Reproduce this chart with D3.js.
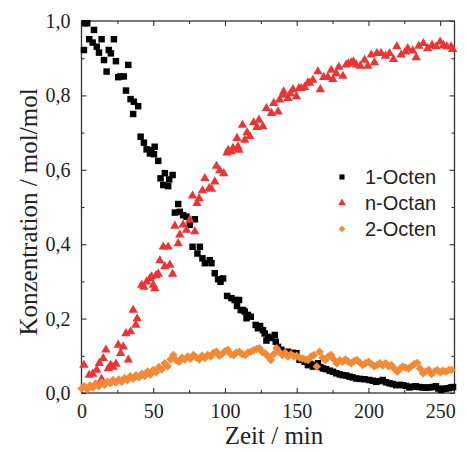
<!DOCTYPE html>
<html>
<head>
<meta charset="utf-8">
<script src="https://cdn.jsdelivr.net/npm/d3@7"></script>
<style>
  html, body { margin: 0; padding: 0; background: #fff; }
  svg { display: block; }
</style>
</head>
<body>
<svg id="chart" width="467" height="452"></svg>
<script>
// ---------- DATA (time in min, concentration in mol/mol) ----------
const seriesNames = ["1-Octen", "n-Octan", "2-Octen"];
const xTickValues = [0, 50, 100, 150, 200, 250];
const yTickValues = [0, 0.2, 0.4, 0.6, 0.8, 1.0];

const octen1 = [[1.7,.922],[2.4,.994],[4,.994],[5.4,.951],[7.8,.942],[8.7,.976],[10.6,.931],[12.2,.915],[14,.951],[15.7,.895],[17.5,.864],[19,.922],[20.5,.913],[22.6,.951],[24,.892],[25.6,.849],[27.2,.851],[29.5,.851],[31,.813],[32.6,.882],[34.2,.79],[36,.75],[36.5,.783],[39.5,.771],[41.2,.689],[43.5,.673],[45.4,.655],[47.7,.644],[48.8,.653],[50.5,.642],[51,.662],[53.5,.624],[55.1,.577],[57,.559],[58.1,.591],[60.4,.556],[61.1,.574],[63.5,.586],[65.1,.485],[67.4,.508],[68.5,.487],[70.8,.478],[73.2,.474],[75.5,.452],[77.4,.393],[79,.467],[80.8,.375],[82.5,.393],[84.3,.362],[86,.349],[89.4,.357],[90.6,.349],[92.9,.322],[95.2,.306],[96.9,.299],[98.7,.308],[101.5,.261],[104.5,.255],[106.8,.25],[108.4,.234],[109.8,.25],[111,.223],[112.6,.223],[113.8,.219],[115,.201],[116,.21],[118,.205],[121.4,.183],[123,.174],[124.5,.18],[126.5,.169],[127.7,.16],[128.9,.141],[130,.151],[132.3,.148],[134.7,.156],[135.4,.138],[137,.124],[139.3,.116],[141.6,.108],[143.9,.111],[145.5,.105],[147.4,.108],[149.8,.107],[152,.089],[153.8,.09],[155.5,.084],[157.8,.075],[159.5,.078],[161.3,.071],[163,.074],[164.8,.08],[166.5,.07],[168.3,.066],[170.5,.064],[173,.06],[175.3,.057],[177.6,.053],[180,.05],[182.2,.048],[184.5,.047],[186.8,.044],[189,.042],[191.5,.039],[194,.038],[197.3,.037],[200.5,.035],[203,.033],[205.4,.03],[207.7,.032],[210,.035],[212.3,.029],[214.7,.026],[217,.024],[219.3,.021],[221.7,.022],[224,.021],[226.3,.019],[228.6,.015],[231,.017],[233,.018],[235.5,.016],[237.9,.015],[240.2,.014],[242.5,.015],[244.8,.016],[247,.018],[248.8,.012],[250.6,.008],[252.3,.011],[254,.012],[256,.013],[257.6,.015],[259,.016]];

const nOctan = [[1.7,.075],[5.4,.048],[7.8,.051],[9.4,.022],[10.6,.062],[12.4,.08],[14,.037],[15.2,.093],[17,.116],[18.7,.066],[20.3,.075],[22,.07],[24,.078],[25.6,.129],[27.3,.107],[29.1,.124],[31,.16],[32.6,.089],[34.2,.165],[36,.223],[37.9,.183],[38.8,.2],[41.9,.29],[43.5,.285],[45.4,.299],[47.7,.308],[48.8,.313],[50,.29],[51.1,.281],[52,.316],[53.5,.32],[54.6,.356],[57,.393],[58.1,.34],[60.4,.393],[61.6,.344],[63.5,.32],[65.1,.449],[67.4,.402],[68.5,.425],[70.8,.452],[73.2,.438],[75.5,.465],[77.4,.53],[79,.434],[80.5,.51],[82,.523],[84.3,.544],[86,.577],[89,.55],[90.6,.548],[92.9,.568],[94.1,.61],[96.4,.598],[99.2,.59],[101.5,.646],[102.2,.653],[104.5,.649],[105.6,.658],[108.4,.685],[109.1,.662],[109.8,.653],[112.2,.72],[113.8,.68],[115.4,.7],[117.3,.69],[120,.727],[122.3,.714],[123.7,.734],[126.5,.716],[128.9,.765],[132.4,.752],[134,.779],[137,.756],[138.1,.788],[140.4,.801],[140.9,.81],[143.9,.792],[145.5,.805],[147.4,.816],[149.8,.797],[151.6,.819],[153.2,.819],[155.5,.822],[157.8,.834],[159,.833],[161.3,.841],[164.8,.864],[166.5,.816],[168.8,.849],[171.7,.849],[174.1,.868],[175.2,.843],[177.6,.859],[179.4,.876],[182.2,.852],[184.5,.882],[186,.885],[188,.888],[189.6,.891],[191.5,.882],[194.3,.879],[197.3,.895],[199.6,.879],[202,.909],[204.2,.888],[205.9,.913],[208.9,.913],[211.9,.906],[214.7,.913],[217.5,.897],[219.8,.931],[222.8,.909],[225.8,.917],[227.4,.926],[230.9,.92],[233.3,.902],[235.1,.933],[238.3,.94],[241.3,.926],[244.4,.935],[247.2,.931],[250,.944],[252.3,.935],[254.6,.931],[257.6,.931],[258.7,.924]];

const octen2 = [[0,.012],[2,.018],[4,.010],[6,.020],[8,.015],[10,.025],[12,.018],[14,.028],[16,.022],[18,.030],[20,.026],[22,.035],[24,.028],[26,.036],[28,.030],[30,.040],[32,.034],[34,.045],[36,.038],[38,.048],[40,.042],[42,.052],[44,.046],[46,.058],[48,.050],[50,.062],[52,.056],[54,.070],[56,.064],[58,.080],[60,.072],[62,.090],[64,.102],[66,.088],[68,.084],[70,.095],[72,.090],[74,.098],[76,.092],[78,.102],[80,.096],[82,.090],[84,.100],[86,.094],[88,.102],[90,.098],[92,.108],[94,.111],[96,.100],[98,.105],[100,.112],[102,.116],[104,.104],[106,.102],[108,.108],[110,.111],[112,.105],[114,.102],[116,.108],[118,.111],[120,.115],[122,.118],[124,.120],[126,.110],[128,.107],[130,.098],[132,.089],[134,.105],[136,.120],[138,.110],[140,.102],[142,.108],[144,.098],[146,.104],[148,.099],[150,.100],[152,.095],[154,.093],[156,.090],[158,.089],[160,.098],[162,.102],[164,.071],[166,.111],[168,.095],[170,.089],[172,.098],[174,.102],[176,.090],[178,.080],[180,.088],[182,.084],[184,.090],[186,.084],[188,.080],[190,.086],[192,.089],[194,.082],[196,.075],[198,.080],[200,.084],[202,.078],[204,.072],[206,.075],[208,.080],[210,.074],[212,.080],[214,.072],[216,.075],[218,.066],[220,.057],[222,.065],[224,.071],[226,.068],[228,.066],[230,.072],[232,.078],[234,.081],[236,.066],[238,.053],[240,.058],[242,.062],[244,.051],[246,.058],[248,.062],[250,.055],[252,.060],[254,.057],[256,.062],[258,.062]];

// ---------- LAYOUT ----------
const mLeft = 81.5, mRight = 454.5, mTop = 21, mBottom = 393;
const colors = ["#000000", "#EE3333", "#F28A35"];

const svg = d3.select("#chart");
const x = d3.scaleLinear().domain([0, 260]).range([mLeft, mRight]);
const y = d3.scaleLinear().domain([0, 1]).range([mBottom, mTop]);

const fmtY = v => d3.format(".1f")(v).replace(".", ",");

const serif = "'Liberation Serif', 'Times New Roman', serif";
const sans = "'Liberation Sans', Arial, sans-serif";

const xMinor = d3.range(25, 260, 50);
const yMinor = [0.1, 0.3, 0.5, 0.7, 0.9];

function styleAxis(g) {
  g.select(".domain").remove();
  g.selectAll(".tick line").attr("stroke", "#333").attr("stroke-width", 1.1);
}

// bottom
svg.append("g").attr("transform", `translate(0,${mBottom})`)
  .call(d3.axisBottom(x).tickValues(xTickValues).tickSizeInner(-5).tickSizeOuter(0).tickPadding(11).tickFormat(d3.format("d")))
  .call(styleAxis)
  .call(g => g.selectAll("text").attr("font-family", serif).attr("font-size", 20).attr("fill", "#222"));
svg.append("g").attr("transform", `translate(0,${mBottom})`)
  .call(d3.axisBottom(x).tickValues(xMinor).tickSizeInner(-3).tickSizeOuter(0).tickFormat(""))
  .call(styleAxis);
// top
svg.append("g").attr("transform", `translate(0,${mTop})`)
  .call(d3.axisTop(x).tickValues(xTickValues).tickSizeInner(-5).tickSizeOuter(0).tickFormat(""))
  .call(styleAxis);
svg.append("g").attr("transform", `translate(0,${mTop})`)
  .call(d3.axisTop(x).tickValues(xMinor).tickSizeInner(-3).tickSizeOuter(0).tickFormat(""))
  .call(styleAxis);
// left
svg.append("g").attr("transform", `translate(${mLeft},0)`)
  .call(d3.axisLeft(y).tickValues(yTickValues).tickSizeInner(-5).tickSizeOuter(0).tickPadding(11).tickFormat(fmtY))
  .call(styleAxis)
  .call(g => g.selectAll("text").attr("font-family", serif).attr("font-size", 20).attr("fill", "#222"));
svg.append("g").attr("transform", `translate(${mLeft},0)`)
  .call(d3.axisLeft(y).tickValues(yMinor).tickSizeInner(-3).tickSizeOuter(0).tickFormat(""))
  .call(styleAxis);
// right
svg.append("g").attr("transform", `translate(${mRight},0)`)
  .call(d3.axisRight(y).tickValues(yTickValues).tickSizeInner(-5).tickSizeOuter(0).tickFormat(""))
  .call(styleAxis);
svg.append("g").attr("transform", `translate(${mRight},0)`)
  .call(d3.axisRight(y).tickValues(yMinor).tickSizeInner(-3).tickSizeOuter(0).tickFormat(""))
  .call(styleAxis);

// frame
svg.append("rect")
  .attr("x", mLeft).attr("y", mTop)
  .attr("width", mRight - mLeft).attr("height", mBottom - mTop)
  .attr("fill", "none").attr("stroke", "#333").attr("stroke-width", 1.3);

// ---------- MARKS ----------
const plot = svg.append("g");
const sq = d3.symbol().type(d3.symbolSquare).size(42);
const tri = d3.symbol().type(d3.symbolTriangle).size(38);
const dia = d3.symbol().type(d3.symbolSquare).size(36);

plot.selectAll("path.s1").data(octen1).join("path")
  .attr("class", "s1")
  .attr("d", sq)
  .attr("transform", d => `translate(${x(d[0])},${y(d[1])})`)
  .attr("fill", colors[0]);

plot.selectAll("path.s2").data(nOctan).join("path")
  .attr("class", "s2")
  .attr("d", tri)
  .attr("transform", d => `translate(${x(d[0])},${y(d[1])})`)
  .attr("fill", colors[1]);

plot.selectAll("path.s3").data(octen2).join("path")
  .attr("class", "s3")
  .attr("d", dia)
  .attr("transform", d => `translate(${x(d[0])},${y(d[1])}) rotate(45)`)
  .attr("fill", colors[2]);

// ---------- AXIS TITLES ----------
svg.append("text")
  .attr("x", 274).attr("y", 444)
  .attr("text-anchor", "middle")
  .attr("font-family", serif).attr("font-size", 25).attr("fill", "#222")
  .text("Zeit / min");

svg.append("text")
  .attr("transform", `translate(37,${(mTop + mBottom) / 2 + 5}) rotate(-90)`)
  .attr("text-anchor", "middle")
  .attr("font-family", serif).attr("font-size", 25).attr("fill", "#222")
  .text("Konzentration / mol/mol");

// ---------- LEGEND ----------
const legSyms = [d3.symbol().type(d3.symbolSquare).size(26), d3.symbol().type(d3.symbolTriangle).size(26), d3.symbol().type(d3.symbolSquare).size(22)];
const legend = svg.append("g");
seriesNames.forEach((name, i) => {
  const yy = 184 + i * 26;
  legend.append("path")
    .attr("d", legSyms[i])
    .attr("transform", `translate(342,${yy - 7})` + (i === 2 ? " rotate(45)" : ""))
    .attr("fill", colors[i]);
  legend.append("text")
    .attr("x", 365).attr("y", yy)
    .attr("font-family", sans).attr("font-size", 20).attr("fill", "#222")
    .text(name);
});
</script>
</body>
</html>
